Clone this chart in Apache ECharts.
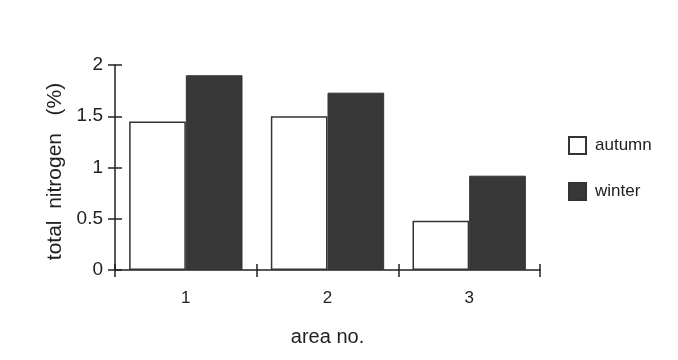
<!DOCTYPE html>
<html>
<head>
<meta charset="utf-8">
<script src="https://cdn.jsdelivr.net/npm/echarts@6/dist/echarts.min.js"></script>
<style>html,body{margin:0;padding:0;background:#fff}#c{width:678px;height:360px}</style>
</head>
<body>
<div id="c"></div>
<script>
var categories = ['1', '2', '3'];
var autumn = [1.45, 1.5, 0.48];
var winter = [1.9, 1.73, 0.92];
var seriesNames = ['autumn', 'winter'];
var yMin = 0, yMax = 2, yInterval = 0.5;

var font = 'Liberation Sans, Arial, Helvetica, sans-serif';
var ink = '#222';
var chart = echarts.init(document.getElementById('c'), null, {renderer: 'canvas'});
chart.setOption({
  backgroundColor: '#fff',
  animation: false,
  grid: {left: 115, right: 138, top: 65, bottom: 90, containLabel: false},
  legend: {
    orient: 'vertical', left: 568, top: 136, padding: 0,
    itemWidth: 17, itemHeight: 17, itemGap: 27,
    textStyle: {fontFamily: font, fontSize: 17, color: ink, padding: [0,0,0,4]},
    data: seriesNames.map(function(n){return {name: n, icon: 'rect'};})
  },
  xAxis: [{
    type: 'category', data: categories, boundaryGap: true,
    name: 'area no.', nameLocation: 'middle', nameGap: 57,
    nameTextStyle: {fontFamily: font, fontSize: 20, color: ink},
    axisLine: {lineStyle: {color: ink, width: 1.5}},
    axisTick: {show: true, length: 7, lineStyle: {color: ink, width: 1.5}},
    axisLabel: {fontFamily: font, fontSize: 17, color: ink, margin: 20}
  }, {
    type: 'category', data: categories, boundaryGap: true, position: 'bottom', gridIndex: 0,
    axisLine: {show: false},
    axisTick: {show: true, inside: true, length: 6, lineStyle: {color: ink, width: 1.5}},
    axisLabel: {show: false}
  }],
  yAxis: [{
    type: 'value', min: yMin, max: yMax, interval: yInterval,
    name: 'total  nitrogen   (%)', nameLocation: 'middle', nameGap: 48,
    nameTextStyle: {fontFamily: font, fontSize: 21, color: ink, padding: [0, 8, 0, 0]},
    splitLine: {show: false},
    axisLine: {show: true, lineStyle: {color: ink, width: 1.5}},
    axisTick: {show: true, length: 7, lineStyle: {color: ink, width: 1.5}},
    axisLabel: {fontFamily: font, fontSize: 19, color: ink, margin: 12}
  }, {
    type: 'value', min: yMin, max: yMax, interval: yInterval, position: 'left',
    splitLine: {show: false},
    axisLine: {show: false},
    axisTick: {show: true, inside: true, length: 7, lineStyle: {color: ink, width: 1.5}},
    axisLabel: {show: false}
  }],
  series: [{
    name: seriesNames[0], type: 'bar', data: autumn,
    barGap: '0%', barCategoryGap: '20%',
    itemStyle: {color: '#fff', borderColor: '#333', borderWidth: 1.5}
  }, {
    name: seriesNames[1], type: 'bar', data: winter,
    barGap: '0%', barCategoryGap: '20%',
    itemStyle: {color: '#383838', borderColor: '#333', borderWidth: 1}
  }]
});
</script>
</body>
</html>
